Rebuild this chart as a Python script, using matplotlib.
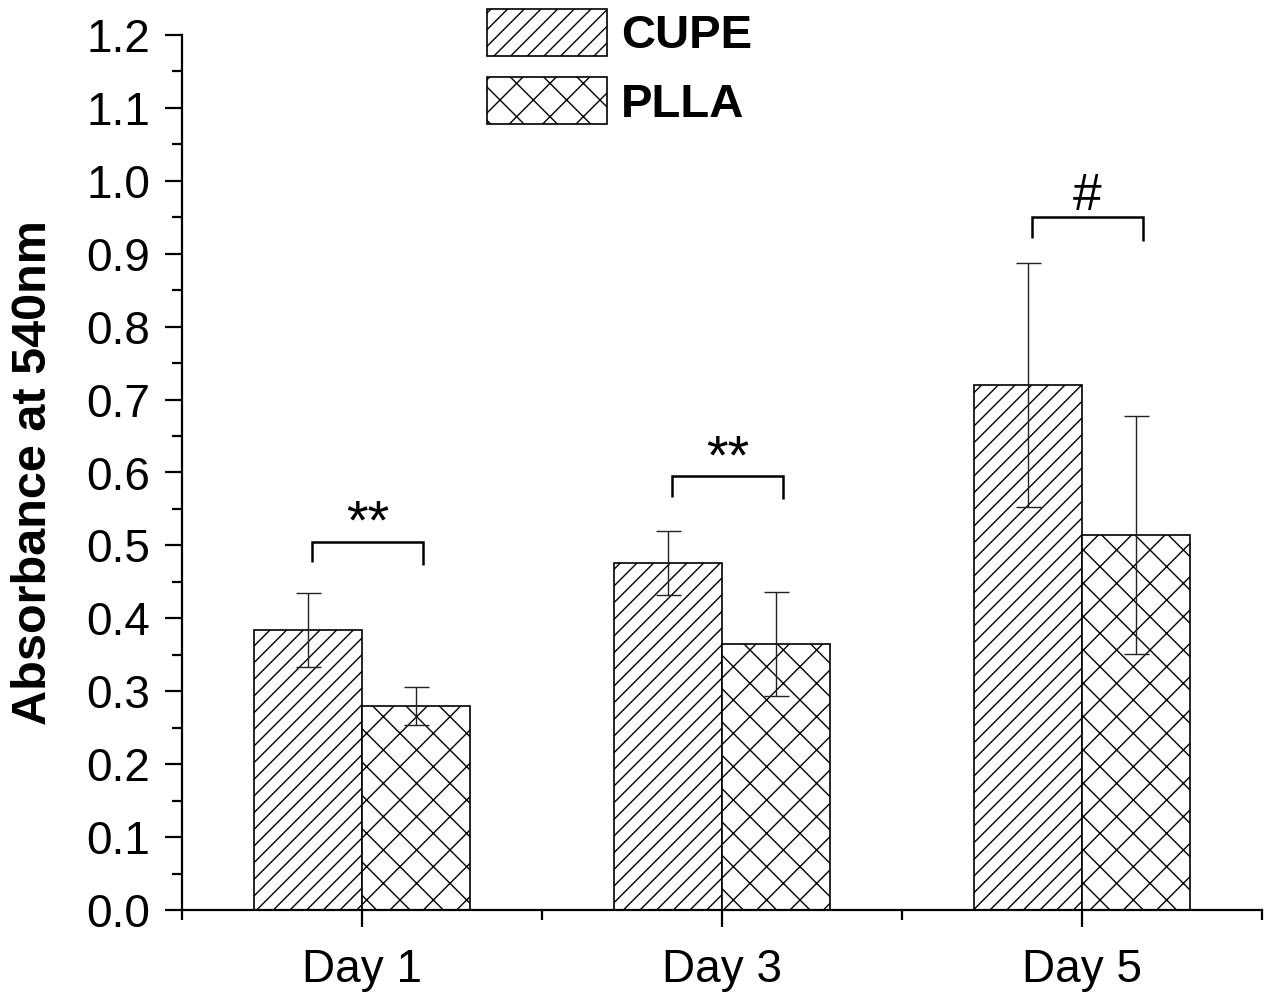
import matplotlib
matplotlib.use("Agg")
import matplotlib.pyplot as plt
import numpy as np
from matplotlib.ticker import MultipleLocator, FixedLocator

plt.rcParams["font.family"] = ["Liberation Sans", "DejaVu Sans"]
plt.rcParams["hatch.linewidth"] = 1.0

days = ["Day 1", "Day 3", "Day 5"]
cupe_mean = [0.384, 0.476, 0.720]
cupe_err = [0.051, 0.044, 0.167]
plla_mean = [0.280, 0.365, 0.514]
plla_err = [0.026, 0.071, 0.163]
sig_labels = ["**", "**", "#"]
sig_heights = [0.505, 0.595, 0.950]

x = np.arange(len(days))
w = 0.3

fig = plt.figure(figsize=(12.73, 9.97), dpi=100)
ax = fig.add_axes([182 / 1273, 87 / 997, 1080 / 1273, 875 / 997])

err_kw = dict(ecolor="#222222", elinewidth=1.0, capsize=9, capthick=1.0)
ax.bar(x - w / 2, cupe_mean, w, yerr=cupe_err, color="white", edgecolor="black",
       linewidth=1.2, hatch="//", label="CUPE", error_kw=err_kw)
ax.bar(x + w / 2, plla_mean, w, yerr=plla_err, color="white", edgecolor="black",
       linewidth=1.2, hatch="x", label="PLLA", error_kw=err_kw)

# significance brackets
for xi, lab, h in zip(x, sig_labels, sig_heights):
    x0, x1 = xi - 0.14, xi + 0.17
    ax.plot([x0, x0, x1, x1], [h - 0.028, h, h, h - 0.032], color="black", lw=1.8,
            solid_capstyle="butt", solid_joinstyle="miter")
    star = lab.startswith("*")
    ax.text((x0 + x1) / 2, h + 0.004 if star else h + 0.01, lab, ha="center",
            va="baseline", fontsize=40 if star else 37)

ax.set_xlim(-0.5, 2.5)
ax.set_ylim(0, 1.2)
ax.yaxis.set_major_locator(MultipleLocator(0.1))
ax.yaxis.set_minor_locator(MultipleLocator(0.05))
ax.set_yticklabels([f"{v:.1f}" for v in ax.get_yticks()])
ax.set_xticks(x)
ax.set_xticklabels(days)
ax.xaxis.set_minor_locator(FixedLocator([-0.5, 0.5, 1.5, 2.5]))

for s in ["top", "right"]:
    ax.spines[s].set_visible(False)
for s in ["left", "bottom"]:
    ax.spines[s].set_linewidth(1.6)

ax.tick_params(axis="both", which="major", length=12, width=1.6, labelsize=33,
               direction="out")
ax.tick_params(axis="y", which="major", pad=11)
ax.tick_params(axis="x", which="major", pad=15)
ax.tick_params(axis="both", which="minor", length=7, width=1.6, direction="out")
ax.set_ylabel("Absorbance at 540nm", fontsize=35, fontweight="bold", labelpad=22)

fig.legend(loc="upper left", bbox_to_anchor=(487 / 1273, 1 - 9 / 997), frameon=False,
           prop={"size": 34, "weight": "bold"}, handlelength=2.55, handleheight=1.15,
           handletextpad=0.28, labelspacing=0.4, borderpad=0, borderaxespad=0)

fig.savefig("out.png", dpi=100, facecolor="white")
